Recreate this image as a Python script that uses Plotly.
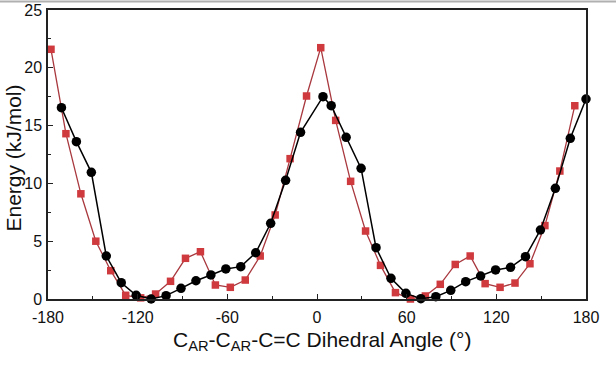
import plotly.graph_objects as go

# Data
angle_red = [-178, -168, -158, -148, -138, -128, -118, -108, -98, -88, -78, -68,
             -58, -48, -38, -28, -18, -7, 2.5, 12.5, 22.5, 32.5, 42.5, 52.5,
             62.5, 72.5, 82.5, 92.5, 102.5, 112.5, 122.5, 132.5, 142.5, 152.5, 162.5, 172.5]
energy_red = [21.6, 14.3, 9.1, 5.0, 2.45, 0.32, 0.1, 0.43, 1.53, 3.52, 4.09, 1.21,
              1.01, 1.64, 3.72, 7.27, 12.14, 17.56, 21.74, 15.45, 10.18, 5.88, 2.91, 0.55,
              0.0, 0.26, 1.27, 2.99, 3.72, 1.33, 1.01, 1.38, 3.05, 6.35, 11.07, 16.72]

angle_black = [-171, -161, -151, -141, -131, -121, -111, -101, -91, -81, -71, -61,
               -51, -41, -31, -21, -11, 4, 9.5, 19.5, 29.5, 39.5, 49.5, 59.5,
               69.5, 79.5, 89.5, 99.5, 109.5, 119.5, 129.5, 139.5, 149.5, 159.5, 169.5, 180]
energy_black = [16.55, 13.61, 10.96, 3.72, 1.41, 0.32, 0.0, 0.29, 0.92, 1.58, 2.08, 2.6,
                2.8, 4.0, 6.55, 10.27, 14.42, 17.5, 16.72, 13.99, 11.3, 4.44, 1.79, 0.49,
                0.03, 0.2, 0.75, 1.5, 1.99, 2.51, 2.74, 3.66, 5.97, 9.57, 13.9, 17.3]

x_ticks = [-180, -120, -60, 0, 60, 120, 180]
y_ticks = [0, 5, 10, 15, 20, 25]

x_title = "C<sub>AR</sub>-C<sub>AR</sub>-C=C Dihedral Angle (°)"
y_title = "Energy (kJ/mol)"

fig = go.Figure()
fig.add_trace(go.Scatter(
    x=angle_red, y=energy_red, mode="lines+markers",
    line=dict(color="#a8383e", width=1.3),
    marker=dict(symbol="square", size=7.5, color="#cf3a3f"),
    cliponaxis=False, showlegend=False))
fig.add_trace(go.Scatter(
    x=angle_black, y=energy_black, mode="lines+markers",
    line=dict(color="#000000", width=1.5),
    marker=dict(symbol="circle", size=9.5, color="#000000"),
    cliponaxis=False, showlegend=False))

font_family = "Liberation Sans, Arial, sans-serif"
W, H = 616, 366
L, T = 48, 10
PW, PH = 538, 289
R, B = W - L - PW, H - T - PH

fig.update_layout(
    width=W, height=H,
    margin=dict(l=L, r=R, t=T, b=B),
    paper_bgcolor="white", plot_bgcolor="white",
    font=dict(family=font_family, color="#111111"),
    xaxis=dict(
        range=[-180, 180], tickvals=x_ticks, ticktext=[str(v) for v in x_ticks],
        ticks="inside", ticklen=5, tickcolor="#222", tickwidth=1,
        minor=dict(dtick=30, tick0=-180, ticks="inside", ticklen=3, tickcolor="#222"),
        showline=True, linecolor="#222", linewidth=1.5, mirror=True,
        showgrid=False, zeroline=False, automargin=False,
        tickfont=dict(size=16, family=font_family, color="#111"),
        ticklabelstandoff=3,
    ),
    yaxis=dict(
        range=[0, 25], tickvals=y_ticks, ticktext=[str(v) for v in y_ticks],
        ticks="inside", ticklen=5, tickcolor="#222", tickwidth=1,
        minor=dict(dtick=2.5, tick0=0, ticks="inside", ticklen=3, tickcolor="#222"),
        showline=True, linecolor="#222", linewidth=1.5, mirror=True,
        showgrid=False, zeroline=False, automargin=False,
        tickfont=dict(size=16, family=font_family, color="#111"),
        ticklabelstandoff=1,
    ),
)

# axis titles as annotations for exact placement
fig.add_annotation(text=x_title, xref="paper", yref="paper",
                   x=(322 - L) / PW, y=-(341 - (T + PH)) / PH,
                   xanchor="center", yanchor="middle", showarrow=False,
                   font=dict(size=21, family=font_family, color="#111"))
fig.add_annotation(text=y_title, xref="paper", yref="paper",
                   x=(12.5 - L) / PW, y=(T + PH - 158) / PH, textangle=-90,
                   xanchor="center", yanchor="middle", showarrow=False,
                   font=dict(size=21, family=font_family, color="#111"))

# light gray frame line at the very top of the image
fig.add_shape(type="line", xref="paper", yref="paper",
              x0=-L / PW, x1=(W - L) / PW, y0=1 + (T - 1.5) / PH, y1=1 + (T - 1.5) / PH,
              line=dict(color="#b0b0b0", width=2))

fig.write_html("out.html",
               config={"displayModeBar": False},
               post_script="document.body.style.margin='0';document.body.style.padding='0';")
